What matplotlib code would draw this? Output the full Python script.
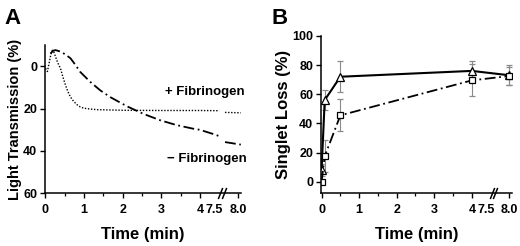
import numpy as np
import matplotlib
matplotlib.use("Agg")
import matplotlib.pyplot as plt

plt.rcParams["font.family"] = ["Liberation Sans", "DejaVu Sans"]
plt.rcParams["font.weight"] = "bold"

# Panel A: light transmission traces (time in min, transmission in %)
plus_fib_time = [0.0, 0.05, 0.1, 0.15, 0.18, 0.22, 0.26, 0.32, 0.39, 0.45, 0.52, 0.58,
                 0.65, 0.73, 0.82, 0.9, 0.99, 1.15, 1.34, 2.0, 3.0, 4.0, 7.6, np.nan, 7.72, 8.05]
plus_fib_trans = [1.0, 2.5, -2.0, -6.5, -7.5, -6.5, -4.5, -1.5, 1.1, 5.0, 9.0, 12.0,
                  14.6, 16.6, 18.2, 19.2, 19.8, 20.2, 20.5, 20.8, 20.9, 20.9, 21.0, np.nan, 21.8, 22.0]
minus_fib_time = [0.13, 0.2, 0.26, 0.39, 0.52, 0.65, 0.78, 0.9, 1.16, 1.42, 1.68, 2.11,
                  2.54, 2.97, 3.4, 3.83, 4.0, 7.2, 7.6, np.nan, 7.72, 8.05]
minus_fib_trans = [-6.0, -7.3, -7.6, -6.9, -5.5, -3.7, -0.5, 2.7, 7.4, 11.4, 14.6, 18.9,
                   22.5, 25.5, 27.8, 29.5, 30.0, 32.0, 33.0, np.nan, 35.8, 37.0]

# Panel B: singlet loss (%) with error bars
b_time = [0.0, 0.083, 0.5, 4.0, 8.0]
tri_loss = [8.0, 56.0, 72.0, 76.0, 73.0]
tri_err = [4.0, 7.0, 10.5, 7.0, 7.0]
sq_loss = [0.0, 17.5, 45.5, 69.5, 72.5]
sq_err = [1.0, 11.0, 11.0, 11.0, 6.0]

x_ticks = [0, 1, 2, 3, 4, 7.5, 8.0]
x_tick_labels = ["0", "1", "2", "3", "4", "7.5", "8.0"]
x_minor = [0.5, 1.5, 2.5, 3.5]


def fwd(t):
    t = np.asarray(t, dtype=float)
    return np.where(t <= 4, t, np.where(t <= 7.5, 4 + (t - 4) * (0.38 / 3.5), 4.38 + (t - 7.5) * 1.24))


def inv(a):
    a = np.asarray(a, dtype=float)
    return np.where(a <= 4, a, np.where(a <= 4.38, 4 + (a - 4) * (3.5 / 0.38), 7.5 + (a - 4.38) / 1.24))


def style_axis(ax):
    ax.set_xscale("function", functions=(fwd, inv))
    ax.set_xlim(-0.02, 8.06)
    ax.set_xticks(x_ticks)
    ax.set_xticklabels(x_tick_labels)
    ax.set_xticks(x_minor, minor=True)
    ax.xaxis.get_major_ticks()[5].tick1line.set_visible(False)
    for s in ["top", "right"]:
        ax.spines[s].set_visible(False)
    for s in ["left", "bottom"]:
        ax.spines[s].set_linewidth(1.1)
    ax.tick_params(which="major", direction="out", length=3.5, width=1.0, labelsize=9)
    ax.tick_params(axis="x", which="major", pad=4)
    ax.tick_params(axis="y", which="major", pad=2)
    ax.tick_params(which="minor", direction="out", length=2.0, width=0.9)
    for lab in ax.get_xticklabels() + ax.get_yticklabels():
        lab.set_fontweight("bold")
    # axis break marks
    slash = [(-0.4, -1), (0.4, 1)]
    ax.plot([7.62, 7.7], [0, 0], linestyle="none", marker=slash, markersize=8,
            markeredgewidth=1.1, color="black", transform=ax.get_xaxis_transform(),
            clip_on=False, zorder=5)


fig = plt.figure(figsize=(5.2, 2.46), dpi=100)
axA = fig.add_axes([0.086, 0.214, 0.378, 0.603])
axB = fig.add_axes([0.617, 0.214, 0.368, 0.640])

# Panel A
axA.plot(plus_fib_time, plus_fib_trans, color="black", linestyle=(0, (1, 1.2)), linewidth=1.0)
axA.plot(minus_fib_time, minus_fib_trans, color="black", linestyle=(0, (6, 2, 1, 2)), linewidth=1.3)
axA.set_ylim(60, -10)
axA.set_yticks([0, 20, 40, 60])
style_axis(axA)
axA.set_xlabel("Time (min)", fontsize=12, fontweight="bold", labelpad=8)
axA.set_ylabel("Light Transmission (%)", fontsize=10.5, fontweight="bold", labelpad=1)
axA.text(0.613, 0.683, "+ Fibrinogen", transform=axA.transAxes, fontsize=9.5,
         fontweight="bold", va="center", ha="left")
axA.text(0.623, 0.231, "\u2212 Fibrinogen", transform=axA.transAxes, fontsize=9.5,
         fontweight="bold", va="center", ha="left")

# Panel B
axB.errorbar(b_time, tri_loss, yerr=tri_err, color="black", linestyle="-", linewidth=1.5,
             marker="^", markersize=6, markerfacecolor="white", markeredgecolor="black",
             markeredgewidth=0.9, ecolor="#8a8a8a", elinewidth=0.8, capsize=2, capthick=0.8)
axB.errorbar(b_time, sq_loss, yerr=sq_err, color="black", linestyle=(0, (6, 2, 1, 2)),
             linewidth=1.3, marker="s", markersize=4.5, markerfacecolor="white",
             markeredgecolor="black", markeredgewidth=0.9, ecolor="#8a8a8a",
             elinewidth=0.8, capsize=2, capthick=0.8)
axB.set_ylim(-8, 100)
axB.set_yticks([0, 20, 40, 60, 80, 100])
style_axis(axB)
axB.set_xlabel("Time (min)", fontsize=12, fontweight="bold", labelpad=8)
axB.set_ylabel("Singlet Loss (%)", fontsize=12, fontweight="bold", labelpad=1)

fig.text(0.008, 0.925, "A", fontsize=16, fontweight="bold", va="center", ha="left")
fig.text(0.523, 0.925, "B", fontsize=16, fontweight="bold", va="center", ha="left")

fig.savefig("out.png", dpi=100)
